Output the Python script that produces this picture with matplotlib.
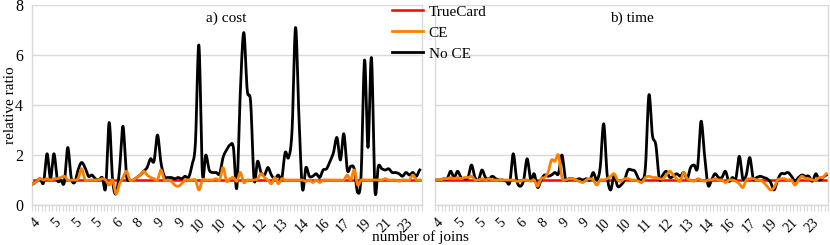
import numpy as np
import matplotlib
matplotlib.use("Agg")
import matplotlib.pyplot as plt
from matplotlib.ticker import FixedLocator, NullFormatter

plt.rcParams['font.family'] = ['Liberation Serif', 'DejaVu Serif']

# x tick labels (number of joins), one every 6 queries
tick_labels = ["4", "5", "5", "5", "6", "8", "9", "9", "10", "10", "11", "12",
               "13", "14", "16", "17", "19", "21", "23"]
n_queries = 113

# a) cost
cost_ce = [0.85, 0.95, 1.05, 1.0, 1.05, 1.0, 1.05, 1.05, 1.1, 1.15,
           1.0, 1.0, 1.0, 1.05, 1.45, 1.0, 1.0, 1.0, 1.0, 1.0,
           1.05, 1.0, 0.8, 1.0, 0.45, 0.85, 1.1, 1.35, 1.0, 1.0,
           1.1, 1.2, 1.35, 1.2, 1.1, 1.05, 1.0, 1.4, 1.0, 1.0,
           0.95, 0.8, 0.75, 0.85, 1.0, 1.0, 1.0, 1.0, 0.6, 1.0,
           1.0, 1.0, 1.0, 1.05, 1.0, 1.5, 0.95, 1.05, 1.1, 0.95,
           1.3, 0.9, 1.0, 1.0, 1.0, 1.05, 1.25, 1.1, 1.0, 0.85,
           1.1, 0.85, 1.05, 1.0, 1.0, 1.0, 1.0, 1.0, 1.0, 0.95,
           1.0, 0.9, 1.0, 0.9, 1.0, 1.0, 1.0, 1.0, 1.0, 1.0,
           1.0, 1.2, 1.0, 1.4, 0.8, 1.0, 1.0, 1.0, 1.0, 1.0,
           1.0, 1.0, 1.05, 1.0, 1.0, 1.0, 0.95, 1.0, 1.0, 1.0,
           1.2, 1.0, 1.0]
cost_noce = [0.85, 0.95, 1.05, 0.9, 2.05, 1.05, 2.05, 1.0, 1.0, 0.9,
             2.3, 1.1, 0.9, 1.4, 1.7, 1.5, 1.15, 1.2, 1.05, 1.0,
             1.1, 0.7, 3.3, 1.0, 0.45, 1.4, 3.15, 1.2, 1.0, 1.0,
             1.1, 1.2, 1.35, 1.5, 1.85, 1.75, 2.8, 1.7, 1.15, 1.1,
             1.1, 1.05, 1.1, 1.05, 1.15, 1.1, 1.6, 2.5, 6.4, 1.3,
             2.0, 1.4, 1.3, 1.3, 1.25, 1.9, 2.2, 2.4, 2.3, 0.7,
             4.5, 6.9, 4.6, 4.1, 1.0, 1.75, 1.3, 1.2, 1.5, 1.2,
             1.05, 1.2, 1.05, 2.1, 1.9, 3.0, 7.1, 3.5, 0.65, 1.5,
             1.15, 1.15, 1.25, 1.1, 1.4, 1.45, 1.75, 2.1, 2.7, 1.8,
             2.85, 1.4, 1.55, 1.45, 0.5, 1.2, 5.8, 2.3, 5.9, 0.6,
             1.55, 1.45, 1.4, 1.45, 1.3, 1.3, 1.25, 1.15, 1.3, 1.2,
             1.3, 1.15, 1.4]

# b) time
time_ce = [1.0, 1.0, 1.05, 1.05, 1.1, 1.05, 1.1, 1.05, 1.1, 1.1,
           1.15, 1.0, 1.0, 1.05, 1.0, 1.05, 1.0, 1.0, 1.0, 1.0,
           1.0, 1.0, 1.0, 0.95, 0.95, 1.0, 1.0, 0.95, 1.0, 0.75,
           1.05, 1.1, 1.3, 1.8, 1.75, 2.0, 1.1, 1.0, 1.05, 1.05,
           1.0, 0.95, 0.9, 1.0, 1.05, 1.0, 0.8, 1.0, 1.0, 1.05,
           1.15, 1.25, 1.0, 0.95, 1.05, 1.05, 1.0, 1.0, 0.95, 0.9,
           1.1, 1.15, 1.1, 1.1, 1.05, 1.05, 1.2, 1.35, 1.2, 1.05,
           0.95, 1.3, 1.05, 1.0, 0.95, 1.05, 1.0, 0.95, 1.0, 1.0,
           1.05, 1.0, 1.0, 0.9, 1.0, 1.0, 0.95, 0.85, 0.7, 1.0,
           1.05, 1.05, 1.0, 1.0, 0.9, 0.75, 0.6, 0.7, 1.0, 1.05,
           1.05, 1.0, 1.0, 0.8, 1.0, 1.15, 1.05, 1.05, 1.0, 1.0,
           1.1, 1.1, 1.25]
time_noce = [1.0, 1.0, 1.05, 1.05, 1.35, 1.1, 1.35, 1.1, 1.05, 1.1,
             1.6, 1.1, 1.0, 1.4, 1.1, 1.05, 1.15, 1.05, 1.0, 1.0,
             0.95, 0.9, 2.05, 1.0, 0.75, 1.0, 1.85, 1.0, 1.25, 0.7,
             1.0, 1.2, 1.15, 1.2, 1.3, 1.25, 2.0, 1.05, 1.05, 1.05,
             1.0, 1.05, 1.0, 1.05, 1.0, 1.3, 1.0, 1.5, 3.25, 1.2,
             0.6, 1.2, 0.75, 0.8, 1.0, 1.4, 1.4, 1.35, 1.05, 1.0,
             1.5, 4.4, 2.8, 2.4, 1.05, 1.2, 1.35, 1.1, 1.15, 1.25,
             1.15, 1.3, 1.05, 1.5, 1.6, 1.5, 3.35, 2.0, 0.8, 1.0,
             1.25, 1.1, 1.1, 1.35, 0.95, 1.1, 1.05, 1.95, 1.05, 1.2,
             1.9, 1.05, 1.1, 1.15, 1.1, 1.05, 0.9, 0.6, 1.0, 1.25,
             1.25, 1.3, 1.15, 0.95, 1.1, 1.2, 1.15, 1.15, 0.95, 1.25,
             1.0, 1.1, 1.2]

true_card = [1.0] * n_queries

GRID = "#d9d9d9"


def smooth(y, per=12):
    # Catmull-Rom curve through the points, like Excel's smoothed lines
    y = np.asarray(y, float)
    p = np.concatenate([[y[0]], y, [y[-1]]])
    t = np.linspace(0, 1, per, endpoint=False)
    xs, ys = [], []
    for i in range(len(y) - 1):
        p0, p1, p2, p3 = p[i], p[i + 1], p[i + 2], p[i + 3]
        yy = 0.5 * (2 * p1 + (p2 - p0) * t
                    + (2 * p0 - 5 * p1 + 4 * p2 - p3) * t ** 2
                    + (3 * p1 - p0 - 3 * p2 + p3) * t ** 3)
        xs.append(i + t)
        ys.append(yy)
    xs.append([len(y) - 1])
    ys.append([y[-1]])
    return np.concatenate(xs), np.concatenate(ys)


def draw_panel(ax, ce, noce, title, show_y):
    x = np.arange(n_queries)
    ax.plot(x, true_card, color="#ff0000", lw=1.8, zorder=2, label="TrueCard")
    sx, sy = smooth(noce)
    ax.plot(sx, sy, color="black", lw=2.0, zorder=3, label="No CE")
    sx, sy = smooth(ce)
    ax.plot(sx, sy, color="#ff8000", lw=2.0, zorder=4, label="CE")

    ax.set_xlim(-0.5, n_queries - 0.5)
    ax.set_ylim(0, 8)
    ax.set_yticks([0, 2, 4, 6, 8])
    ax.yaxis.grid(True, color=GRID, lw=1)
    ax.set_axisbelow(True)
    ax.tick_params(axis="y", length=0, labelsize=11.5, pad=6)
    if not show_y:
        ax.set_yticklabels([])

    ax.set_xticks(np.arange(0, n_queries, 6))
    ax.set_xticklabels(tick_labels, rotation=45, ha="right",
                       rotation_mode="anchor", fontsize=10)
    ax.tick_params(axis="x", which="major", length=0, pad=8)
    ax.xaxis.set_minor_locator(FixedLocator(np.arange(n_queries + 1) - 0.5))
    ax.xaxis.set_minor_formatter(NullFormatter())
    ax.tick_params(axis="x", which="minor", length=4, color=GRID, width=0.8)

    ax.spines["top"].set_visible(False)
    for s in ["left", "right", "bottom"]:
        ax.spines[s].set_color(GRID)
        ax.spines[s].set_linewidth(1)

    ax.text(0.5, 0.935, title, transform=ax.transAxes, ha="center",
            va="center", fontsize=11)


fig = plt.figure(figsize=(8.3, 2.45), dpi=100)
ax1 = fig.add_axes([31.5 / 830, 40 / 245, 390 / 830, 200 / 245])
ax2 = fig.add_axes([435 / 830, 40 / 245, 393 / 830, 200 / 245])

draw_panel(ax1, cost_ce, cost_noce, "a) cost", True)
draw_panel(ax2, time_ce, time_noce, "b) time", False)

fig.text(10 / 830, 1 - 105 / 245, "relative ratio", rotation=90,
         ha="center", va="center", fontsize=11)
fig.text(420 / 830, 1 - 237 / 245, "number of joins", ha="center",
         va="center", fontsize=11)

h, l = ax1.get_legend_handles_labels()
order = [0, 2, 1]
fig.legend([h[i] for i in order], [l[i] for i in order], loc="upper left",
           bbox_to_anchor=(392 / 830, 1 - 5 / 245), frameon=False,
           fontsize=11, handlelength=2.0, handletextpad=0.4,
           labelspacing=0.48, borderpad=0, borderaxespad=0)

fig.savefig("out.png", dpi=100)
